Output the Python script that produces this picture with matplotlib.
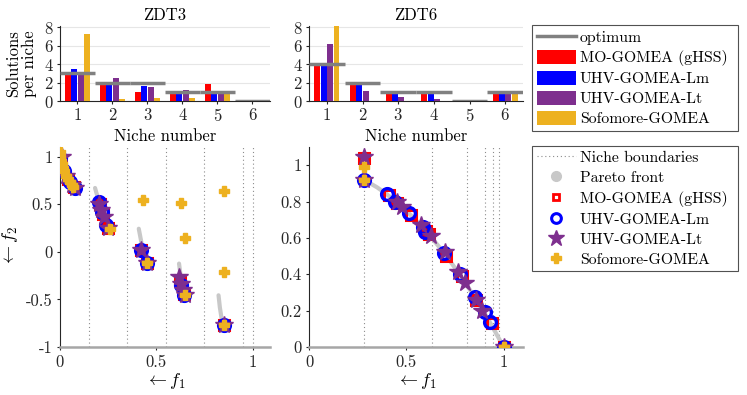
import numpy as np
import matplotlib
matplotlib.use('Agg')
import matplotlib.pyplot as plt
from matplotlib.lines import Line2D
from matplotlib.patches import Patch
from matplotlib.ticker import FuncFormatter

plt.rcParams['font.family'] = 'serif'
plt.rcParams['font.serif'] = ['cmr10', 'DejaVu Serif']
plt.rcParams['mathtext.fontset'] = 'cm'
plt.rcParams['axes.unicode_minus'] = False
plt.rcParams['axes.formatter.use_mathtext'] = True

# ─── Data ─────────────────────────────────────────────────────────────────────
ALGOS  = ['MO-GOMEA (gHSS)', 'UHV-GOMEA-Lm', 'UHV-GOMEA-Lt', 'Sofomore-GOMEA']
COLORS = ['#FF0000', '#0000FF', '#7E2F8E', '#EDB120']
NICHES = [1, 2, 3, 4, 5, 6]

# solutions per niche (rows = algorithms)
zdt3_counts = [[3.1, 2.0, 1.0, 1.0, 1.9, 0.04],
               [3.5, 1.9, 1.6, 1.0, 1.0, 0.04],
               [2.9, 2.5, 1.5, 1.2, 1.0, 0.04],
               [7.3, 0.2, 0.3, 0.3, 0.8, 0.04]]
zdt3_opt = [3, 2, 2, 1, 1, 0]

zdt6_counts = [[4.0, 1.8, 0.9, 0.9, 0.04, 0.9],
               [4.0, 2.0, 1.0, 1.0, 0.04, 1.0],
               [6.2, 1.1, 0.4, 0.2, 0.04, 1.0],
               [8.1, 0.03, 0.03, 0.03, 0.04, 0.9]]
zdt6_opt = [4, 2, 1, 1, 0, 1]

# niche boundaries
zdt3_bounds = [0.15, 0.35, 0.55, 0.75, 0.95, 1.0]
zdt6_bounds = [0.283, 0.634, 0.811, 0.902, 0.948, 0.974]

# Pareto front segments
zdt3_front = [
    ([0.0, 0.005, 0.02, 0.04, 0.06, 0.083], [1.0, 0.93, 0.847, 0.762, 0.698, 0.670]),
    ([0.182, 0.19, 0.20, 0.21, 0.22, 0.23, 0.24, 0.258], [0.670, 0.612, 0.553, 0.474, 0.402, 0.334, 0.282, 0.242]),
    ([0.409, 0.42, 0.43, 0.44, 0.454], [0.242, 0.125, 0.016, -0.067, -0.124]),
    ([0.618, 0.625, 0.635, 0.645, 0.6525], [-0.124, -0.233, -0.363, -0.430, -0.458]),
    ([0.823, 0.83, 0.84, 0.852], [-0.457, -0.585, -0.715, -0.773]),
]
zdt6_front = ([0.281, 0.35, 0.40, 0.50, 0.60, 0.70, 0.80, 0.90, 0.95, 1.0],
              [0.921, 0.878, 0.84, 0.75, 0.64, 0.51, 0.36, 0.19, 0.0975, 0.0])

# approximation sets, ZDT3
zdt3_red_x = [0.005, 0.04, 0.075, 0.21, 0.225, 0.25, 0.42, 0.45, 0.625, 0.645, 0.85]
zdt3_red_y = [0.95, 0.76, 0.68, 0.50, 0.40, 0.25, 0.02, -0.12, -0.30, -0.44, -0.77]
zdt3_blue_x = [0.0, 0.02, 0.05, 0.08, 0.205, 0.22, 0.24, 0.42, 0.45, 0.63, 0.645, 0.85]
zdt3_blue_y = [0.98, 0.85, 0.73, 0.67, 0.52, 0.42, 0.28, 0.02, -0.12, -0.35, -0.45, -0.77]
zdt3_purple_x = [0.01, 0.03, 0.06, 0.08, 0.205, 0.215, 0.23, 0.25, 0.42, 0.45, 0.62, 0.63, 0.64, 0.65, 0.85]
zdt3_purple_y = [0.99, 0.80, 0.70, 0.67, 0.50, 0.44, 0.36, 0.25, 0.02, -0.12, -0.27, -0.34, -0.40, -0.45, -0.77]
zdt3_yellow_x = [0.0, 0.002, 0.005, 0.01, 0.015, 0.02, 0.03, 0.04, 0.05, 0.06, 0.07,
                 0.26, 0.45, 0.65, 0.85, 0.43, 0.63, 0.65, 0.85, 0.85]
zdt3_yellow_y = [1.05, 1.0, 0.95, 0.92, 0.88, 0.85, 0.80, 0.76, 0.73, 0.70, 0.685,
                 0.24, -0.12, -0.45, -0.77, 0.54, 0.51, 0.14, 0.64, -0.21]

# approximation sets, ZDT6
zdt6_red_x = [0.283, 0.41, 0.45, 0.525, 0.60, 0.615, 0.705, 0.785, 0.86, 0.94, 1.0]
zdt6_red_y = [1.04, 0.835, 0.79, 0.725, 0.64, 0.62, 0.50, 0.39, 0.26, 0.13, 0.0]
zdt6_blue_x = [0.283, 0.40, 0.44, 0.515, 0.585, 0.595, 0.695, 0.775, 0.855, 0.905, 0.93, 1.0]
zdt6_blue_y = [0.92, 0.84, 0.80, 0.735, 0.66, 0.635, 0.515, 0.40, 0.275, 0.19, 0.14, 0.0]
zdt6_purple_x = [0.283, 0.283, 0.45, 0.48, 0.575, 0.625, 0.70, 0.765, 0.80, 0.86, 0.89, 1.0]
zdt6_purple_y = [1.045, 0.92, 0.80, 0.77, 0.67, 0.61, 0.52, 0.415, 0.35, 0.26, 0.20, 0.0]
zdt6_yellow_x = [0.283, 0.283, 1.0]
zdt6_yellow_y = [0.99, 0.92, 0.0]

# ─── Figure ───────────────────────────────────────────────────────────────────
FS = 12
LFS = 11.3
fig = plt.figure(figsize=(7.47, 3.95), dpi=100)

ax_b3 = fig.add_axes([0.0803, 0.7443, 0.2811, 0.1911])
ax_b6 = fig.add_axes([0.4137, 0.7443, 0.2865, 0.1911])
ax_s3 = fig.add_axes([0.0803, 0.1215, 0.2811, 0.5063])
ax_s6 = fig.add_axes([0.4137, 0.1215, 0.2865, 0.5063])

fmt = FuncFormatter(lambda v, p: '%g' % v)
AXC = '#262626'


def bar_panel(ax, counts, opt, title):
    w = 0.18
    offs = [-0.27, -0.09, 0.09, 0.27]
    x = np.array(NICHES, dtype=float)
    for k in range(4):
        ax.bar(x + offs[k], counts[k], width=w * 0.92, color=COLORS[k], zorder=3)
    for i, o in enumerate(opt):
        ax.plot([x[i] - 0.5, x[i] + 0.5], [o, o], color='#808080', lw=2.5,
                solid_capstyle='butt', zorder=4)
    ax.set_xlim(0.5, 6.5)
    ax.set_ylim(0, 8.2)
    ax.set_xticks(NICHES)
    ax.set_yticks([0, 2, 4, 6, 8])
    ax.yaxis.grid(True, color='#e6e6e6', lw=0.8, zorder=0)
    ax.set_axisbelow(True)
    ax.set_title(title, fontsize=FS, pad=4)
    ax.set_xlabel('Niche number', fontsize=FS, labelpad=3)
    for s in ['top', 'right']:
        ax.spines[s].set_visible(False)
    for s in ['left', 'bottom']:
        ax.spines[s].set_color(AXC)
    ax.tick_params(labelsize=FS, length=2.5, colors=AXC, pad=2)


def scatter_panel(ax, fronts, bounds, pts, xlim, ylim, yticks):
    for fx, fy in fronts:
        ax.plot(fx, fy, color='#c8c8c8', lw=3, solid_capstyle='round', zorder=1)
    for b in bounds:
        ax.axvline(b, color='#8c8c8c', ls=(0, (1, 2.5)), lw=0.8, zorder=0)
    (rx, ry), (bx, by), (px, py), (yx, yy) = pts
    ax.plot(rx, ry, 's', ms=6.5, mfc='none', mec=COLORS[0], mew=2.2, zorder=2)
    ax.plot(bx, by, 'o', ms=8.5, mfc='none', mec=COLORS[1], mew=2.4, zorder=3)
    ax.plot(px, py, '*', ms=13, mfc=COLORS[2], mec=COLORS[2], zorder=4)
    ax.plot(yx, yy, 'P', ms=7.5, mfc=COLORS[3], mec=COLORS[3], zorder=5)
    ax.set_xlim(*xlim)
    ax.set_ylim(*ylim)
    ax.set_xticks([0, 0.5, 1])
    ax.set_yticks(yticks)
    ax.xaxis.set_major_formatter(fmt)
    ax.yaxis.set_major_formatter(fmt)
    ax.set_xlabel(r'$\leftarrow f_1$', fontsize=13, labelpad=1)
    for s in ['top', 'right']:
        ax.spines[s].set_visible(False)
    ax.spines['left'].set_color(AXC)
    ax.spines['bottom'].set_color('#a6a6a6')
    ax.spines['bottom'].set_linewidth(1.8)
    ax.tick_params(labelsize=FS, length=2.5, colors=AXC, pad=3)


bar_panel(ax_b3, zdt3_counts, zdt3_opt, 'ZDT3')
bar_panel(ax_b6, zdt6_counts, zdt6_opt, 'ZDT6')
ax_b3.set_ylabel('Solutions\nper niche', fontsize=FS, labelpad=5, linespacing=1.0)

scatter_panel(ax_s3, zdt3_front, zdt3_bounds,
              [(zdt3_red_x, zdt3_red_y), (zdt3_blue_x, zdt3_blue_y),
               (zdt3_purple_x, zdt3_purple_y), (zdt3_yellow_x, zdt3_yellow_y)],
              (0, 1.09), (-1, 1.1), [-1, -0.5, 0, 0.5, 1])
scatter_panel(ax_s6, [zdt6_front], zdt6_bounds,
              [(zdt6_red_x, zdt6_red_y), (zdt6_blue_x, zdt6_blue_y),
               (zdt6_purple_x, zdt6_purple_y), (zdt6_yellow_x, zdt6_yellow_y)],
              (0, 1.1), (0, 1.1), [0, 0.2, 0.4, 0.6, 0.8, 1])
ax_s3.set_ylabel(r'$\leftarrow f_2$', fontsize=13, labelpad=4)

# ─── Legends ──────────────────────────────────────────────────────────────────
h1 = [Line2D([], [], color='#808080', lw=2.5)]
h1 += [Patch(facecolor=c, edgecolor='none') for c in COLORS]
leg1 = fig.legend(h1, ['optimum'] + ALGOS, loc='upper left',
                  bbox_to_anchor=(0.712, 0.671, 0.276, 0.266), mode='expand',
                  fontsize=LFS, frameon=True, fancybox=False, edgecolor='#262626',
                  handlelength=2.5, handleheight=1.0, handletextpad=0.25,
                  labelspacing=0.3, borderpad=0.3, borderaxespad=0)
leg1.get_frame().set_linewidth(0.8)

h2 = [Line2D([], [], color='#8c8c8c', ls=(0, (1, 2.5)), lw=0.8),
      Line2D([], [], ls='none', marker='o', ms=7, mfc='#c8c8c8', mec='#c8c8c8'),
      Line2D([], [], ls='none', marker='s', ms=5, mfc='none', mec=COLORS[0], mew=2),
      Line2D([], [], ls='none', marker='o', ms=7, mfc='none', mec=COLORS[1], mew=2.2),
      Line2D([], [], ls='none', marker='*', ms=12, mfc=COLORS[2], mec=COLORS[2]),
      Line2D([], [], ls='none', marker='P', ms=6.5, mfc=COLORS[3], mec=COLORS[3])]
leg2 = fig.legend(h2, ['Niche boundaries', 'Pareto front'] + ALGOS, loc='upper left',
                  bbox_to_anchor=(0.712, 0.330, 0.276, 0.300), mode='expand',
                  fontsize=LFS, frameon=True, fancybox=False, edgecolor='#262626',
                  handlelength=2.5, handletextpad=0.25,
                  labelspacing=0.38, borderpad=0.3, borderaxespad=0)
leg2.get_frame().set_linewidth(0.8)

fig.savefig('out.png', dpi=100)
